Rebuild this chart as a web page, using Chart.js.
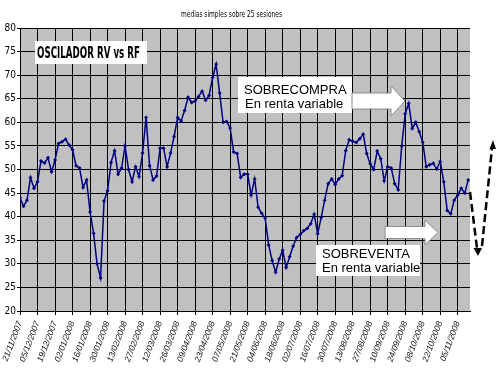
<!DOCTYPE html>
<html>
<head>
<meta charset="utf-8">
<script src="https://cdn.jsdelivr.net/npm/chart.js@4.4.1/dist/chart.umd.min.js"></script>
<style>
  html, body { margin: 0; padding: 0; background: #fff; }
  #wrap { width: 500px; height: 375px; }
</style>
</head>
<body>
<div id="wrap"><canvas id="chart" width="500" height="375"></canvas></div>
<script>
// fechas de las marcas del eje X (cada 10 sesiones)
var tickDates = ['21/11/2007', '05/12/2007', '19/12/2007', '02/01/2008', '16/01/2008', '30/01/2008',
    '13/02/2008', '27/02/2008', '12/03/2008', '26/03/2008', '09/04/2008', '23/04/2008',
    '07/05/2008', '21/05/2008', '04/06/2008', '18/06/2008', '02/07/2008', '16/07/2008',
    '30/07/2008', '13/08/2008', '27/08/2008', '10/09/2008', '24/09/2008', '08/10/2008',
    '22/10/2008', '05/11/2008'];

var sessionsPerTick = 10;
var sessionsPerPoint = 2;
var lastSession = 257;

// oscilador, leido cada 2 sesiones
var oscillator = [44.0, 42.2, 43.5, 48.3, 46.0, 47.4, 51.8, 51.4, 52.5, 49.5,
    52.0, 55.5, 55.9, 56.4, 55.2, 54.2, 50.8, 50.3, 46.2, 47.8,
    41.0, 36.5, 30.0, 27.0, 43.3, 45.5, 51.5, 54.0, 49.0, 50.3,
    55.0, 50.0, 47.4, 50.6, 48.5, 53.5, 61.0, 50.8, 47.8, 48.6,
    54.5, 54.5, 50.6, 53.5, 57.0, 61.0, 60.3, 62.5, 65.3, 64.2,
    64.5, 65.5, 66.6, 64.7, 65.7, 69.5, 72.3, 66.2, 60.0, 60.2,
    58.8, 53.7, 53.4, 48.3, 49.0, 49.0, 44.6, 48.0, 42.0, 40.7,
    39.7, 34.0, 30.7, 28.2, 31.0, 32.9, 29.2, 31.5, 33.8, 35.6,
    36.2, 37.0, 37.5, 38.5, 40.5, 36.4, 39.8, 43.5, 47.0, 48.0,
    46.8, 48.0, 48.7, 54.0, 56.3, 56.0, 55.7, 56.5, 57.5, 53.4,
    51.2, 50.0, 53.9, 52.3, 47.6, 50.6, 50.3, 47.0, 45.7, 55.0,
    61.8, 64.0, 58.7, 60.0, 58.0, 55.8, 50.6, 51.0, 51.3, 50.1,
    51.7, 47.4, 41.3, 40.6, 43.5, 44.6, 46.0, 45.0, 47.8];

var narrow = "'Liberation Sans Narrow', 'Arial Narrow', 'DejaVu Sans Condensed', sans-serif";
var arial = "'Liberation Sans', Arial, sans-serif";

var points = oscillator.map(function (v, i) {
    return { x: i * sessionsPerPoint, y: v };
});

function drawArrow(ctx, x0, x1, tip, yMid, bodyHalf, headHalf) {
    ctx.beginPath();
    ctx.moveTo(x0, yMid - bodyHalf);
    ctx.lineTo(x1, yMid - bodyHalf);
    ctx.lineTo(x1, yMid - headHalf);
    ctx.lineTo(tip, yMid);
    ctx.lineTo(x1, yMid + headHalf);
    ctx.lineTo(x1, yMid + bodyHalf);
    ctx.lineTo(x0, yMid + bodyHalf);
    ctx.closePath();
    ctx.fillStyle = '#fff';
    ctx.fill();
    ctx.strokeStyle = '#8c8c8c';
    ctx.lineWidth = 1;
    ctx.stroke();
}

function fitText(ctx, text, x, y, width) {
    var w = ctx.measureText(text).width;
    ctx.save();
    ctx.translate(x, y);
    ctx.scale(width / w, 1);
    ctx.fillText(text, 0, 0);
    ctx.restore();
}

var plotBackground = {
    id: 'plotBackground',
    beforeDraw: function (chart) {
        var ctx = chart.ctx;
        var a = chart.chartArea;
        ctx.save();
        ctx.fillStyle = '#fff';
        ctx.fillRect(0, 0, chart.width, chart.height);
        ctx.fillStyle = '#c0c0c0';
        ctx.fillRect(a.left, a.top, a.right - a.left, a.bottom - a.top);
        ctx.restore();
    }
};

var notes = {
    id: 'notes',
    afterDraw: function (chart) {
        var ctx = chart.ctx;
        ctx.save();
        ctx.textBaseline = 'alphabetic';
        ctx.textAlign = 'left';

        // titulo
        ctx.fillStyle = '#000';
        ctx.font = '9px ' + narrow;
        fitText(ctx, 'medias simples sobre 25 sesiones', 181, 17, 101);

        // OSCILADOR RV vs RF
        ctx.fillStyle = '#fff';
        ctx.fillRect(35, 41, 112, 23);
        ctx.fillStyle = '#000';
        ctx.font = 'bold 15px ' + narrow;
        fitText(ctx, 'OSCILADOR RV vs RF', 37, 58, 103);

        // sobrecompra
        ctx.fillStyle = '#fff';
        ctx.fillRect(238, 77, 114, 36);
        ctx.fillStyle = '#000';
        ctx.font = '13px ' + arial;
        ctx.fillText('SOBRECOMPRA', 244, 94);
        ctx.fillText('En renta variable', 245, 108);
        drawArrow(ctx, 352, 391, 405, 101, 8, 15);

        // sobreventa
        drawArrow(ctx, 385, 425, 438, 232.5, 6, 12.5);
        ctx.fillStyle = '#fff';
        ctx.fillRect(316, 245, 104, 31);
        ctx.fillStyle = '#000';
        ctx.font = '13px ' + arial;
        ctx.fillText('SOBREVENTA', 322, 258);
        ctx.fillText('En renta variable', 322, 272);

        // flechas discontinuas
        ctx.strokeStyle = '#000';
        ctx.lineWidth = 2.5;
        ctx.setLineDash([8, 4]);
        ctx.beginPath();
        ctx.moveTo(470, 192);
        ctx.lineTo(477, 248);
        ctx.moveTo(482, 246);
        ctx.lineTo(492, 148);
        ctx.stroke();
        ctx.setLineDash([]);
        ctx.fillStyle = '#000';
        ctx.beginPath();
        ctx.moveTo(473.5, 248);
        ctx.lineTo(482, 248);
        ctx.lineTo(478, 256);
        ctx.closePath();
        ctx.fill();
        ctx.beginPath();
        ctx.moveTo(489.5, 149);
        ctx.lineTo(496, 149);
        ctx.lineTo(493, 140);
        ctx.closePath();
        ctx.fill();
        ctx.restore();
    }
};

var chart = new Chart(document.getElementById('chart').getContext('2d'), {
    type: 'line',
    data: {
        datasets: [{
            label: 'Oscilador RV vs RF',
            data: points,
            borderColor: '#000080',
            backgroundColor: '#000080',
            borderWidth: 1.5,
            pointStyle: 'rectRot',
            pointRadius: 2,
            pointBorderWidth: 0,
            pointBackgroundColor: '#000080',
            tension: 0
        }]
    },
    options: {
        responsive: false,
        animation: false,
        devicePixelRatio: 1,
        layout: {
            padding: { top: 28, right: 30, left: 0, bottom: 0 }
        },
        plugins: {
            legend: { display: false },
            title: { display: false },
            tooltip: { enabled: false }
        },
        scales: {
            x: {
                type: 'linear',
                min: 0,
                max: lastSession,
                afterFit: function (s) { s.height = 64; },
                grid: { color: '#000', lineWidth: 1, tickLength: 4, drawTicks: true },
                border: { display: true, color: '#000', width: 1 },
                ticks: {
                    stepSize: sessionsPerTick,
                    includeBounds: false,
                    autoSkip: false,
                    minRotation: 69,
                    maxRotation: 69,
                    padding: 5,
                    color: '#111',
                    font: { family: arial, size: 8.5, style: 'italic' },
                    callback: function (v) {
                        return tickDates[Math.round(v / sessionsPerTick)];
                    }
                }
            },
            y: {
                min: 20,
                max: 80,
                afterFit: function (s) { s.width = 16; },
                grid: { color: '#000', lineWidth: 1, tickLength: 3, drawTicks: true },
                border: { display: true, color: '#000', width: 1 },
                ticks: {
                    stepSize: 5,
                    padding: 1,
                    color: '#000',
                    font: { family: narrow, size: 10 }
                }
            }
        }
    },
    plugins: [plotBackground, notes]
});
</script>
</body>
</html>
